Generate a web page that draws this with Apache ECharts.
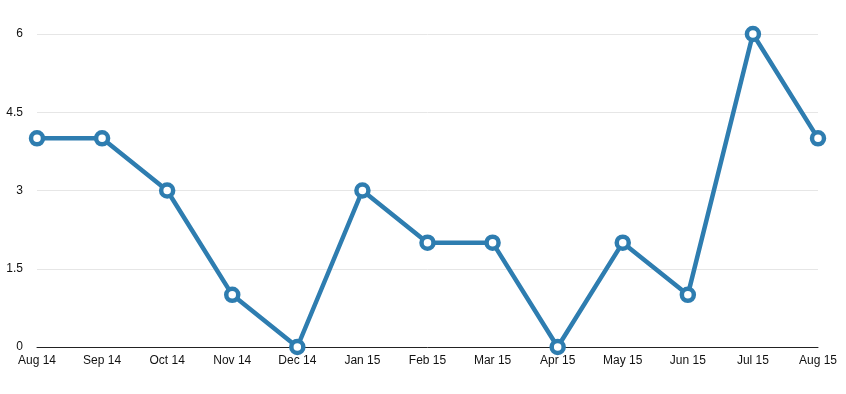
<!DOCTYPE html>
<html><head><meta charset="utf-8">
<script src="https://cdn.jsdelivr.net/npm/echarts@6/dist/echarts.min.js"></script>
<style>html,body{margin:0;padding:0;background:#fff}#c{width:846px;height:394px}</style>
</head><body><div id="c"></div>
<script>
const categories = ["Aug 14","Sep 14","Oct 14","Nov 14","Dec 14","Jan 15","Feb 15","Mar 15","Apr 15","May 15","Jun 15","Jul 15","Aug 15"];
const values = [4,4,3,1,0,3,2,2,0,2,1,6,4];
const yTicks = [0,1.5,3,4.5,6];

const chart = echarts.init(document.getElementById('c'));
chart.setOption({
  animation:false,
  grid:{left:37,right:28,top:34,bottom:47,containLabel:false},
  xAxis:{type:'category',data:categories,boundaryGap:false,
    axisLine:{lineStyle:{color:'#222',width:1}},axisTick:{show:false},
    axisLabel:{color:'#111',fontFamily:'Liberation Sans',fontSize:12,margin:8,interval:0},
    splitLine:{show:false}},
  yAxis:{type:'value',min:yTicks[0],max:yTicks[yTicks.length-1],interval:1.5,
    axisLine:{show:false},axisTick:{show:false},
    axisLabel:{color:'#111',fontFamily:'Liberation Sans',fontSize:12,margin:14},
    splitLine:{lineStyle:{color:'#e6e6e6',width:1}}},
  series:[{type:'line',data:values,symbol:'circle',symbolSize:12,
    lineStyle:{color:'#2e7db0',width:4.5},
    itemStyle:{color:'#fff',borderColor:'#2e7db0',borderWidth:4.5},
    z:3}]
});
</script></body></html>
